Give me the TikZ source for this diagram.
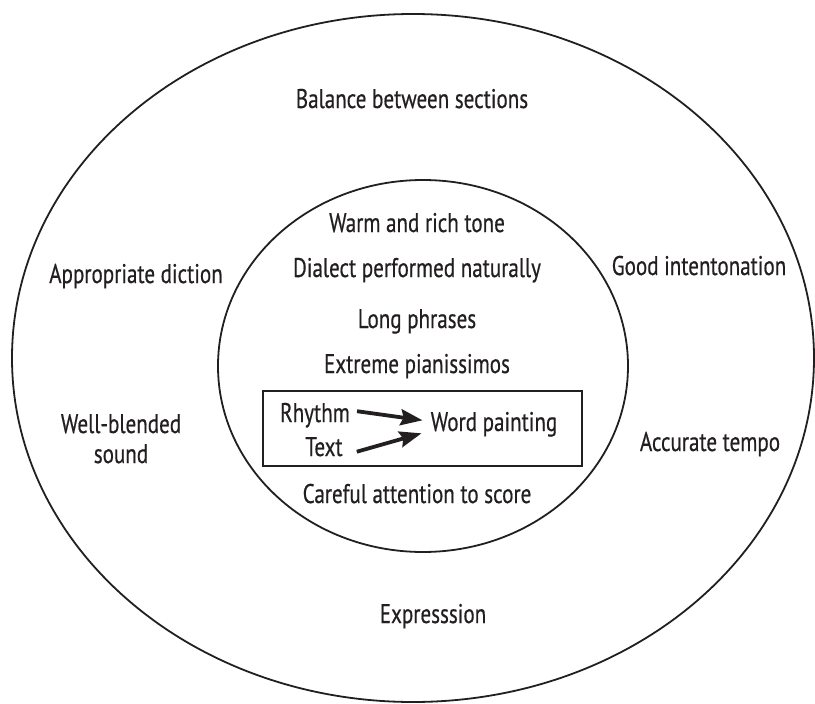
\documentclass[tikz,border=0pt]{standalone}
\usepackage{fontspec}
\setmainfont[FakeStretch=0.78,FakeBold=0.5]{PT Sans}
\usetikzlibrary{arrows.meta}
\definecolor{ink}{HTML}{231F20}
\tikzset{
  lbl/.style={anchor=base, inner sep=0pt, text=ink, font=\fontsize{27}{30}\selectfont},
  ring/.style={line width=1.8pt, draw=ink},
  arr/.style={line width=3.8pt, draw=ink, -{Stealth[length=22pt,width=16pt,inset=3pt]}},
}
\begin{document}
\begin{tikzpicture}[x=1pt,y=-1pt]
\useasboundingbox (0,0) rectangle (815,704);
\draw[ring] (413,358) ellipse [x radius=401pt, y radius=344pt];
\draw[ring] (423,366) ellipse [x radius=205pt, y radius=186pt];
\node[draw=ink, line width=1.8pt, minimum width=319pt, minimum height=75pt, inner sep=0pt] (box) at (422.5,428.5) {};

\node[lbl] (bal) at (412,108) {Balance between sections};
\node[lbl] (app) at (136,283) {Appropriate diction};
\node[lbl] (good) at (699,275) {Good intentonation};
\node[lbl, align=center] (well) at (121,463) {Well-blended\\sound};
\node[lbl] (acc) at (710,451) {Accurate tempo};
\node[lbl] (expr) at (433,623) {Expresssion};

\node[lbl] (warm) at (417,232) {Warm and rich tone};
\node[lbl] (dia) at (417,277) {Dialect performed naturally};
\node[lbl] (long) at (417,328) {Long phrases};
\node[lbl] (ext) at (417,373) {Extreme pianissimos};
\node[lbl] (rh) at (315,422) {Rhythm};
\node[lbl] (tx) at (324,456) {Text};
\node[lbl] (wp) at (494,431) {Word painting};
\node[lbl] (care) at (417,503) {Careful attention to score};

\draw[arr] ([xshift=7pt,yshift=4pt]rh.east) -- ([xshift=-8pt,yshift=4pt]wp.west);
\draw[arr] ([xshift=14pt,yshift=-5pt]tx.east) -- ([xshift=-9pt,yshift=-9pt]wp.west);
\end{tikzpicture}
\end{document}
